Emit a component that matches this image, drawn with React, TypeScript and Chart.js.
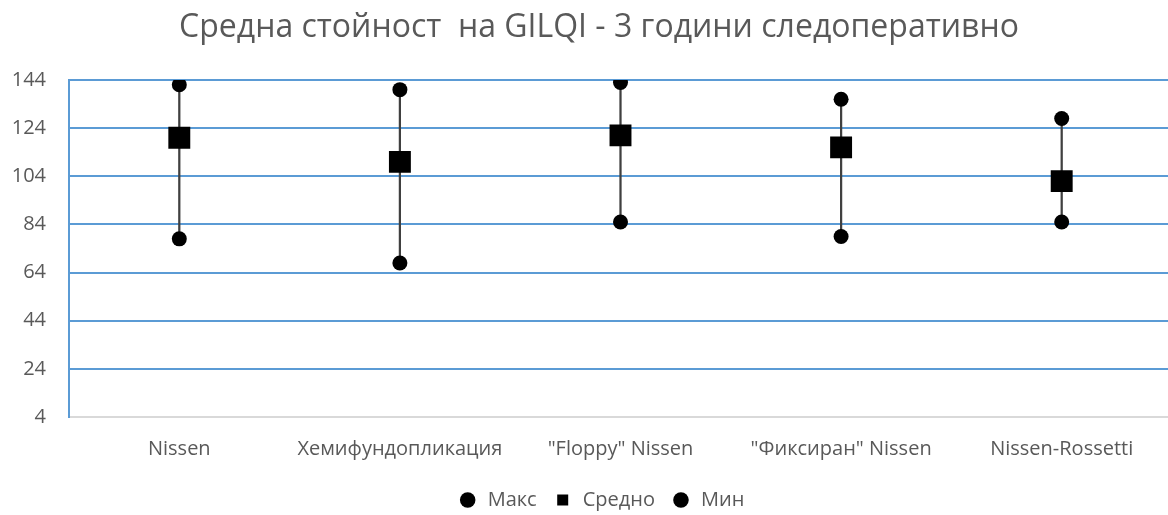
import React, { useEffect, useRef } from "react";
import { Chart, registerables } from "chart.js";

Chart.register(...registerables);

const categories = ['Nissen', 'Хемифундопликация', '"Floppy" Nissen', '"Фиксиран" Nissen', 'Nissen-Rossetti'];
const maxValues = [142, 140, 143, 136, 128];
const meanValues = [120, 110, 121, 116, 102];
const minValues = [78, 68, 85, 79, 85];
const titleText = "Средна стойност  на GILQI - 3 години следоперативно";
const seriesNames = ["Макс", "Средно", "Мин"];

const FONT = "'Open Sans', 'Noto Sans', sans-serif";
const TEXT = "#595959";

// nudges title/legend to match the original (wider, cropped) chart's centring
const nudgePlugin = {
  id: "nudge",
  afterLayout(chart: any) {
    const t = chart.titleBlock;
    if (t) { t.left += 18; t.width -= 18; }
    const l = chart.legend;
    if (l) { l.left += 22; l.width -= 22; l.top += 5; l.bottom += 5; }
  },
};

export default function App() {
  const ref = useRef<HTMLCanvasElement | null>(null);
  useEffect(() => {
    document.body.style.margin = "0";
    const ctx = ref.current!;
    const chart = new Chart(ctx, {
      type: "line",
      plugins: [nudgePlugin],
      data: {
        labels: categories,
        datasets: [
          {
            type: "line",
            label: seriesNames[0],
            data: maxValues,
            showLine: false,
            pointStyle: "circle",
            pointRadius: 7.5,
            pointBackgroundColor: "#000",
            pointBorderColor: "#000",
            pointBorderWidth: 0,
            backgroundColor: "#000",
            borderColor: "#000",
            order: 1,
          },
          {
            type: "line",
            label: seriesNames[1],
            data: meanValues,
            showLine: false,
            pointStyle: "rect",
            pointRadius: 15.5,
            pointBackgroundColor: "#000",
            pointBorderColor: "#000",
            pointBorderWidth: 0,
            backgroundColor: "#000",
            borderColor: "#000",
            order: 2,
          },
          {
            type: "line",
            label: seriesNames[2],
            data: minValues,
            showLine: false,
            pointStyle: "circle",
            pointRadius: 7.5,
            pointBackgroundColor: "#000",
            pointBorderColor: "#000",
            pointBorderWidth: 0,
            backgroundColor: "#000",
            borderColor: "#000",
            order: 3,
          },
          {
            type: "bar",
            label: "range",
            data: minValues.map((m, i) => [m, maxValues[i]]) as any,
            backgroundColor: "#404040",
            borderWidth: 0,
            barThickness: 1.6,
            order: 10,
          } as any,
        ],
      },
      options: {
        animation: false,
        responsive: false,
        maintainAspectRatio: false,
        layout: { padding: { left: 8, right: 28, top: 0, bottom: 0 } },
        plugins: {
          tooltip: { enabled: false },
          title: {
            display: true,
            text: titleText,
            color: TEXT,
            font: { family: FONT, size: 32, weight: "normal" },
            padding: { top: 9, bottom: 32.6 },
          },
          legend: {
            position: "bottom",
            labels: {
              usePointStyle: true,
              color: TEXT,
              font: { family: FONT, size: 20 },
              boxHeight: 11,
              padding: 16,
              filter: (item: any) => item.text !== "range",
            },
          },
        },
        scales: {
          x: {
            offset: true,
            grid: { display: false, drawTicks: false },
            border: { display: true, color: "#D9D9D9", width: 1.5 },
            ticks: { color: TEXT, font: { family: FONT, size: 20 }, padding: 20, maxRotation: 0 },
            afterFit: (s: any) => { s.height = 52; },
          },
          y: {
            min: 4,
            max: 144,
            ticks: { stepSize: 20, color: TEXT, font: { family: FONT, size: 20 }, padding: 23 },
            grid: {
              drawTicks: false,
              lineWidth: 2,
              color: (c: any) => (c.tick && c.tick.value === 4 ? "#D9D9D9" : "#5B9BD5"),
            },
            border: { display: true, color: "#5B9BD5", width: 2 },
            afterFit: (s: any) => { s.width = 61; },
          },
        },
      },
    });
    return () => chart.destroy();
  }, []);
  return (
    <div style={{ width: 1168, height: 515, overflow: "hidden", background: "#fff" }}>
      <canvas ref={ref} width={1200} height={515} style={{ width: 1200, height: 515, display: "block" }} />
    </div>
  );
}
